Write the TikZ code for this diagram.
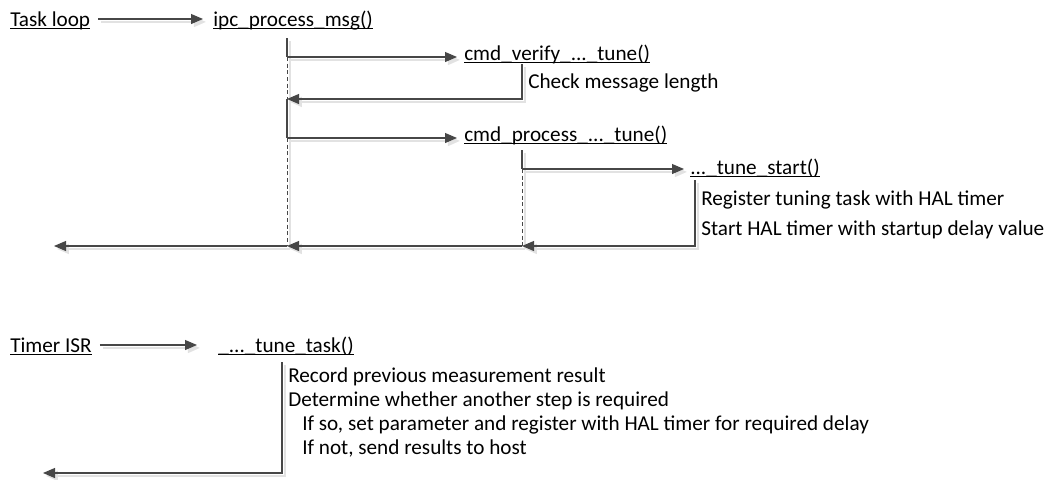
\documentclass[tikz,border=0pt]{standalone}
\usepackage{fontspec}
\setmainfont{Carlito}
\usetikzlibrary{arrows.meta, calc}
\definecolor{lineGrey}{HTML}{474747}
\definecolor{shadeGrey}{HTML}{E2E2E2}

% name of a routine, underlined through the descenders
\newcommand{\objname}[1]{\setbox0\hbox{#1}\rlap{\rule[-2.4pt]{\wd0}{0.8pt}}\box0}

\tikzset{
    label/.style={inner sep=0pt, anchor=base west, font=\fontsize{15.9}{18}\selectfont},
    shade/.style={preaction={draw=shadeGrey, line width=1.4pt, solid,
        transform canvas={shift={(2.2pt,-2.2pt)}}}},
    msg/.style={draw=lineGrey, line width=0.8pt, shade,
        -{Triangle[length=9pt, width=7.5pt]}},
    life/.style={draw=lineGrey, line width=0.8pt, shade},
    idle/.style={draw=lineGrey, line width=0.6pt, dash pattern=on 3pt off 2pt, shade}
}

\begin{document}
\begin{tikzpicture}[x=0.75pt, y=-0.75pt]
    \useasboundingbox (0,0) rectangle (1049,479);

    % --- command path ---
    \node[label] (taskloop) at (10,26) {\objname{Task loop}};
    \node[label] (ipc) at (213,26) {\objname{ipc\_process\_msg()}};
    \node[label] (verify) at (464,60) {\objname{cmd\_verify\_...\_tune()}};
    \node[label] (checklen) at (528,88) {Check message length};
    \node[label] (process) at (464,141) {\objname{cmd\_process\_...\_tune()}};
    \node[label] (tunestart) at (690,174) {\objname{...\_tune\_start()}};
    \node[label] (register) at (701,205) {Register tuning task with HAL timer};
    \node[label] (starthal) at (701,235) {Start HAL timer with startup delay value};

    \coordinate (ipc-top) at (287,38);
    \coordinate (ipc-call1) at (287,57);
    \coordinate (ipc-back1) at (287,99);
    \coordinate (ipc-call2) at (287,138);
    \coordinate (ipc-end) at (287,246);
    \coordinate (verify-top) at (522,64);
    \coordinate (verify-end) at (522,99);
    \coordinate (process-top) at (522,150);
    \coordinate (process-call) at (522,169);
    \coordinate (process-end) at (522,246);
    \coordinate (start-top) at (695,180);
    \coordinate (start-end) at (695,246);
    \coordinate (loop-end) at (54,246);

    \draw[msg, shorten <=6pt, shorten >=7.5pt]
        ($(taskloop.base east)+(0,-7)$) -- ($(ipc.base west)+(0,-7)$);

    % lifelines
    \draw[life] (ipc-top) -- (ipc-call1);
    \draw[idle] (ipc-call1) -- (ipc-back1);
    \draw[life] (ipc-back1) -- (ipc-call2);
    \draw[idle] (ipc-call2) -- (ipc-end);
    \draw[life] (process-top) -- (process-call);
    \draw[idle] (process-call) -- (process-end);

    % calls
    \draw[msg, shorten >=5.25pt] (ipc-call1) -- (ipc-call1 -| verify.west);
    \draw[msg, shorten >=5.25pt] (ipc-call2) -- (ipc-call2 -| process.west);
    \draw[msg, shorten >=4.5pt] (process-call) -- (process-call -| tunestart.west);

    % returns
    \draw[msg] (verify-top) -- (verify-end) -- (ipc-back1);
    \draw[msg] (start-top) -- (start-end) -- (process-end);
    \draw[msg] (process-end) -- (ipc-end);
    \draw[msg] (ipc-end) -- (loop-end);

    % --- timer path ---
    \node[label] (timerisr) at (10,352) {\objname{Timer ISR}};
    \node[label] (tunetask) at (218,352) {\objname{\_...\_tune\_task()}};
    \node[label] (record) at (288,382) {Record previous measurement result};
    \node[label] (determine) at (288,406) {Determine whether another step is required};
    \node[label] (ifso) at (302,430) {If so, set parameter and register with HAL timer for required delay};
    \node[label] (ifnot) at (302,454) {If not, send results to host};

    \coordinate (task-top) at (282,362);
    \coordinate (task-end) at (282,473);
    \coordinate (isr-end) at (43,473);

    \draw[msg, shorten <=6pt, shorten >=15.75pt]
        ($(timerisr.base east)+(0,-7)$) -- ($(tunetask.base west)+(0,-7)$);
    \draw[msg] (task-top) -- (task-end) -- (isr-end);
\end{tikzpicture}
\end{document}
